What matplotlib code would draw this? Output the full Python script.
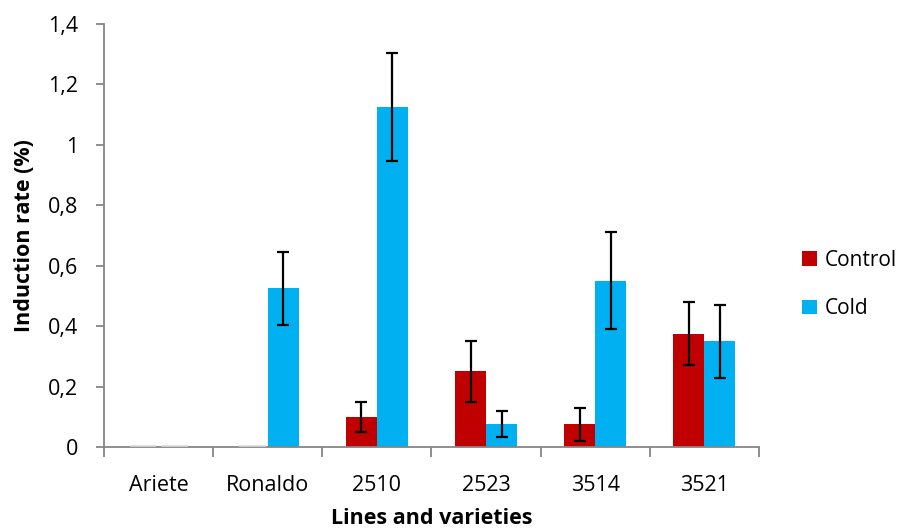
import matplotlib
matplotlib.use("Agg")
import matplotlib.pyplot as plt
import numpy as np

categories = ["Ariete", "Ronaldo", "2510", "2523", "3514", "3521"]
control = [0.0, 0.0, 0.1, 0.25, 0.075, 0.375]
control_err = [0.0, 0.0, 0.05, 0.1, 0.055, 0.105]
cold = [0.0, 0.525, 1.125, 0.075, 0.55, 0.35]
cold_err = [0.0, 0.12, 0.18, 0.043, 0.16, 0.12]
y_ticks = [0, 0.2, 0.4, 0.6, 0.8, 1.0, 1.2, 1.4]
y_tick_labels = ["0", "0,2", "0,4", "0,6", "0,8", "1", "1,2", "1,4"]

plt.rcParams["font.family"] = ["Open Sans", "DejaVu Sans"]
fs = 15.5

fig = plt.figure(figsize=(9.06, 5.31), dpi=100)
ax = fig.add_axes([0.1148, 0.1582, 0.7229, 0.7966])

x = np.arange(len(categories))
w = 0.285
red = "#C00000"
blue = "#00B0F0"
axis_gray = "#868686"

def draw_series(offset, vals, errs, color, label):
    ax.bar(x + offset, vals, w, color=color, label=label,
           edgecolor="none", zorder=2)
    for xi, v, e in zip(x + offset, vals, errs):
        if v == 0:
            # zero-height bar shown as a faint stub on the baseline
            ax.plot([xi - w / 2 + 0.02, xi + w / 2 - 0.02], [0.002, 0.002],
                    color="#d9d9d9", lw=1.2, zorder=3, solid_capstyle="butt")
        else:
            ax.errorbar(xi, v, yerr=e, fmt="none", ecolor="black",
                        elinewidth=1.6, capsize=4.5, capthick=1.6, zorder=4)

draw_series(-w / 2, control, control_err, red, "Control")
draw_series(w / 2, cold, cold_err, blue, "Cold")

ax.set_xlim(-0.5, len(categories) - 0.5)
ax.set_ylim(0, 1.4)
ax.set_yticks(y_ticks)
ax.set_yticklabels(y_tick_labels, fontsize=fs)

# category labels centred, tick marks between categories
ax.set_xticks(np.arange(len(categories) + 1) - 0.5)
ax.set_xticklabels([])
ax.set_xticks(x, minor=True)
ax.set_xticklabels(categories, minor=True, fontsize=fs)
ax.tick_params(axis="x", which="minor", length=0, pad=20)
ax.tick_params(axis="x", which="major", length=7, width=1.3,
               color=axis_gray, direction="out")
ax.tick_params(axis="y", length=6, width=1.3, color=axis_gray,
               direction="out", pad=12.5)

for side in ("top", "right"):
    ax.spines[side].set_visible(False)
for side in ("left", "bottom"):
    ax.spines[side].set_color(axis_gray)
    ax.spines[side].set_linewidth(1.3)

ax.set_ylabel("Induction rate (%)", fontsize=fs, fontweight="bold", labelpad=9.5)
ax.set_xlabel("Lines and varieties", fontsize=fs, fontweight="bold", labelpad=8.5)

ax.legend(loc="center left", bbox_to_anchor=(0.874, 0.464),
          bbox_transform=fig.transFigure, frameon=False, borderpad=0,
          fontsize=15, handlelength=0.7, handleheight=0.7, handletextpad=0.37,
          labelspacing=1.3)

fig.savefig("out.png", dpi=100)
